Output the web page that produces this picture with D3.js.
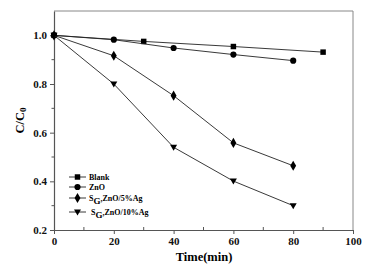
<!DOCTYPE html>
<html>
<head>
<meta charset="utf-8">
<script src="https://cdn.jsdelivr.net/npm/d3@7"></script>
<style>
  body { margin: 0; background: #fff; }
  text { font-family: "Liberation Serif", "Times New Roman", serif; font-weight: bold; }
</style>
</head>
<body>
<div id="chart"></div>
<script>
// data
const blankTime = [0, 30, 60, 90];
const blankVals = [1.0, 0.975, 0.954, 0.931];
const sampleTime = [0, 20, 40, 60, 80];
const znoVals = [1.0, 0.982, 0.948, 0.921, 0.896];
const ag5Vals = [1.0, 0.916, 0.752, 0.558, 0.464];
const ag10Vals = [1.0, 0.80, 0.540, 0.401, 0.30];
const xTicks = [0, 20, 40, 60, 80, 100];
const yTicks = [0.2, 0.4, 0.6, 0.8, 1.0];

const width = 367, height = 270;
const margin = { top: 11, right: 14, bottom: 40, left: 54 };

const svg = d3.select('#chart').append('svg')
  .attr('width', width)
  .attr('height', height);

const x = d3.scaleLinear().domain([0, 100]).range([margin.left, width - margin.right]);
const y = d3.scaleLinear().domain([0.2, 1.1]).range([height - margin.bottom, margin.top]);

const axisColor = '#555';

// frame (top and right)
svg.append('path')
  .attr('d', `M${x(0)},${y(1.1)}H${x(100)}V${y(0.2)}`)
  .attr('fill', 'none')
  .attr('stroke', '#888')
  .attr('stroke-width', 1);

// minor ticks
svg.append('g').selectAll('line.xm')
  .data([10, 30, 50, 70, 90])
  .join('line')
  .attr('x1', d => x(d)).attr('x2', d => x(d))
  .attr('y1', y(0.2)).attr('y2', y(0.2) - 3)
  .attr('stroke', axisColor);
svg.append('g').selectAll('line.ym')
  .data([0.3, 0.5, 0.7, 0.9])
  .join('line')
  .attr('x1', x(0)).attr('x2', x(0) - 2.5)
  .attr('y1', d => y(d)).attr('y2', d => y(d))
  .attr('stroke', axisColor);

// axes
const xAxis = svg.append('g')
  .attr('transform', `translate(0, ${y(0.2)})`)
  .call(d3.axisBottom(x).tickValues(xTicks).tickSize(4).tickPadding(3).tickSizeOuter(0));
const yAxis = svg.append('g')
  .attr('transform', `translate(${x(0)}, 0)`)
  .call(d3.axisLeft(y).tickValues(yTicks).tickFormat(d3.format('.1f')).tickSize(4).tickPadding(3).tickSizeOuter(0));

[xAxis, yAxis].forEach(a => {
  a.select('.domain').attr('stroke', axisColor).attr('stroke-width', 1.2);
  a.selectAll('.tick line').attr('stroke', axisColor);
  a.selectAll('.tick text')
    .attr('fill', '#111')
    .style('font-size', '11px')
    .style('font-family', '"Liberation Serif", serif')
    .style('font-weight', 'bold');
});

// axis titles
svg.append('text')
  .attr('x', 204).attr('y', 261)
  .attr('text-anchor', 'middle')
  .style('font-size', '12.5px')
  .text('Time(min)');

const yLab = svg.append('text')
  .attr('transform', `translate(24, ${y(0.65)}) rotate(-90)`)
  .attr('text-anchor', 'middle')
  .style('font-size', '12.5px');
yLab.append('tspan').text('C/C');
yLab.append('tspan').attr('baseline-shift', '-25%').style('font-size', '9px').text('0');

// series
const series = [
  { name: 'Blank', t: blankTime, v: blankVals, sym: d3.symbolSquare, size: 30 },
  { name: 'ZnO', t: sampleTime, v: znoVals, sym: d3.symbolCircle, size: 30 },
  { name: 'ag5', t: sampleTime, v: ag5Vals, sym: d3.symbolDiamond, size: 30 },
  { name: 'ag10', t: sampleTime, v: ag10Vals, sym: 'down', size: 30 }
];

function symbolPath(s) {
  if (s.sym === 'down') {
    return 'M-3.5,-2.5L3.5,-2.5L0,3.5Z';
  }
  return d3.symbol().type(s.sym).size(s.size)();
}

const line = d3.line().x(d => x(d[0])).y(d => y(d[1]));

series.forEach(s => {
  const pts = s.t.map((t, i) => [t, s.v[i]]);
  svg.append('path')
    .datum(pts)
    .attr('d', line)
    .attr('fill', 'none')
    .attr('stroke', '#222')
    .attr('stroke-width', 0.9);
  svg.append('g').selectAll('path')
    .data(pts)
    .join('path')
    .attr('transform', d => `translate(${x(d[0])}, ${y(d[1])})`)
    .attr('d', symbolPath(s))
    .attr('fill', '#000');
});

// legend
const legendRows = [177, 187, 198, 212];
const legend = svg.append('g');
series.forEach((s, i) => {
  const ly = legendRows[i];
  legend.append('line')
    .attr('x1', 69).attr('x2', 86)
    .attr('y1', ly).attr('y2', ly)
    .attr('stroke', '#222').attr('stroke-width', 0.9);
  legend.append('path')
    .attr('transform', `translate(77.5, ${ly})`)
    .attr('d', symbolPath(s))
    .attr('fill', '#000');
  const t = legend.append('text')
    .attr('x', i === 3 ? 91 : 89).attr('y', ly + 3)
    .style('font-size', '8px');
  if (i < 2) {
    t.text(s.name);
  } else {
    t.append('tspan').text('S');
    t.append('tspan').attr('baseline-shift', '-30%').style('font-size', '9px').text('G');
    t.append('tspan')
      .text(i === 2 ? ',ZnO/5%Ag' : ',ZnO/10%Ag');
  }
});
</script>
</body>
</html>
